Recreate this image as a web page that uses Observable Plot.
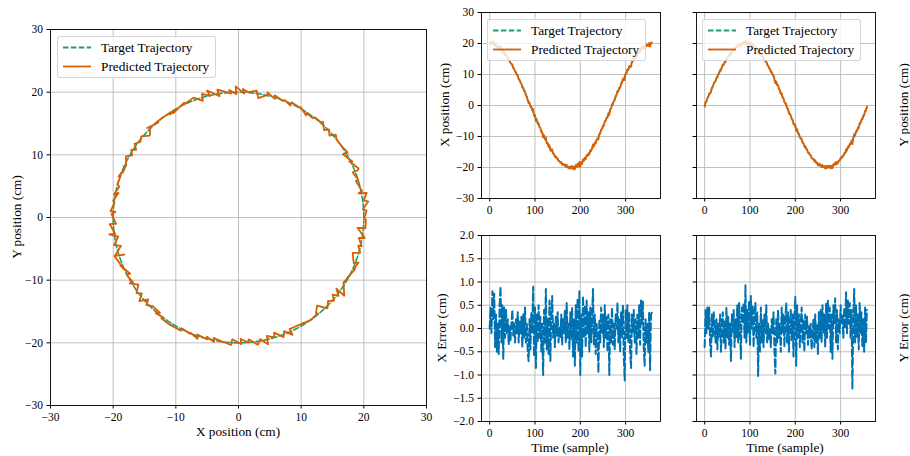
<!DOCTYPE html>
<html>
<head>
<meta charset="utf-8">
<script src="https://cdn.jsdelivr.net/npm/d3@7"></script>
<script src="https://cdn.jsdelivr.net/npm/@observablehq/plot@0.6"></script>
<style>
  body { margin: 0; background: #fff; }
  #fig { position: relative; width: 910px; height: 456px; font-family: "Liberation Serif", "Times New Roman", serif; color: #000; overflow: hidden; }
  .lbl { position: absolute; font-size: 13.3px; white-space: nowrap; transform: translate(-50%, -50%); }
  .rot { transform: translate(-50%, -50%) rotate(-90deg); }
  .legend { position: absolute; background: rgba(255,255,255,0.8); border: 1px solid rgba(204,204,204,0.8); border-radius: 3px; box-sizing: border-box; }
</style>
</head>
<body>
<div id="fig"></div>
<script>
// ---------- data (sampled every 2 samples, t = 0..358) ----------
const sampleStep = 2;
const seriesNames = ["Target Trajectory", "Predicted Trajectory"];

const xTarget = [
 20,19.99,19.95,19.89,19.81,19.7,19.56,19.41,19.23,19.02,18.79,18.54,18.27,17.98,17.66,17.32,16.96,16.58,16.18,15.76,15.32,14.86,14.39,13.89,13.38,12.86,12.31,11.76,11.18,10.6,10,9.39,8.77,8.13,7.49,6.84,6.18,5.51,4.84,4.16,3.47,2.78,2.09,1.4,0.7,0,
 -0.7,-1.4,-2.09,-2.78,-3.47,-4.16,-4.84,-5.51,-6.18,-6.84,-7.49,-8.13,-8.77,-9.39,-10,-10.6,-11.18,-11.76,-12.31,-12.86,-13.38,-13.89,-14.39,-14.86,-15.32,-15.76,-16.18,-16.58,-16.96,-17.32,-17.66,-17.98,-18.27,-18.54,-18.79,-19.02,-19.23,-19.41,-19.56,-19.7,-19.81,-19.89,-19.95,-19.99,-20,
 -19.99,-19.95,-19.89,-19.81,-19.7,-19.56,-19.41,-19.23,-19.02,-18.79,-18.54,-18.27,-17.98,-17.66,-17.32,-16.96,-16.58,-16.18,-15.76,-15.32,-14.86,-14.39,-13.89,-13.38,-12.86,-12.31,-11.76,-11.18,-10.6,-10,-9.39,-8.77,-8.13,-7.49,-6.84,-6.18,-5.51,-4.84,-4.16,-3.47,-2.78,-2.09,-1.4,-0.7,0,
 0.7,1.4,2.09,2.78,3.47,4.16,4.84,5.51,6.18,6.84,7.49,8.13,8.77,9.39,10,10.6,11.18,11.76,12.31,12.86,13.38,13.89,14.39,14.86,15.32,15.76,16.18,16.58,16.96,17.32,17.66,17.98,18.27,18.54,18.79,19.02,19.23,19.41,19.56,19.7,19.81,19.89,19.95,19.99
];

const yTarget = [
 0,0.7,1.4,2.09,2.78,3.47,4.16,4.84,5.51,6.18,6.84,7.49,8.13,8.77,9.39,10,10.6,11.18,11.76,12.31,12.86,13.38,13.89,14.39,14.86,15.32,15.76,16.18,16.58,16.96,17.32,17.66,17.98,18.27,18.54,18.79,19.02,19.23,19.41,19.56,19.7,19.81,19.89,19.95,19.99,20,
 19.99,19.95,19.89,19.81,19.7,19.56,19.41,19.23,19.02,18.79,18.54,18.27,17.98,17.66,17.32,16.96,16.58,16.18,15.76,15.32,14.86,14.39,13.89,13.38,12.86,12.31,11.76,11.18,10.6,10,9.39,8.77,8.13,7.49,6.84,6.18,5.51,4.84,4.16,3.47,2.78,2.09,1.4,0.7,0,
 -0.7,-1.4,-2.09,-2.78,-3.47,-4.16,-4.84,-5.51,-6.18,-6.84,-7.49,-8.13,-8.77,-9.39,-10,-10.6,-11.18,-11.76,-12.31,-12.86,-13.38,-13.89,-14.39,-14.86,-15.32,-15.76,-16.18,-16.58,-16.96,-17.32,-17.66,-17.98,-18.27,-18.54,-18.79,-19.02,-19.23,-19.41,-19.56,-19.7,-19.81,-19.89,-19.95,-19.99,-20,
 -19.99,-19.95,-19.89,-19.81,-19.7,-19.56,-19.41,-19.23,-19.02,-18.79,-18.54,-18.27,-17.98,-17.66,-17.32,-16.96,-16.58,-16.18,-15.76,-15.32,-14.86,-14.39,-13.89,-13.38,-12.86,-12.31,-11.76,-11.18,-10.6,-10,-9.39,-8.77,-8.13,-7.49,-6.84,-6.18,-5.51,-4.84,-4.16,-3.47,-2.78,-2.09,-1.4,-0.7
];

// prediction error (predicted - target), cm
const xError = [
 0,0.45,-0.1,0.8,0.2,0.75,-0.4,0.3,-0.5,0.1,-0.55,0.5,0.9,-0.3,0.5,-0.65,0.45,-0.2,0.4,-0.1,
 0.2,-0.35,0.05,-0.25,0.1,0.4,-0.15,0.1,-0.3,0.2,-0.1,0.35,-0.3,0.15,-0.1,0.25,-0.4,0.3,-0.2,0.45,
 -0.3,0.1,-0.5,-0.7,0.2,-0.45,0.35,-0.1,0.9,-0.6,0.45,-0.85,0.3,-0.3,0.5,-0.2,0.25,-0.5,0.1,-1.0,
 0.4,-0.3,0.85,-0.45,0.2,-0.55,0.6,-0.7,0.3,0.7,-0.2,0.1,-0.4,0.25,-0.15,0.35,-0.3,0.05,-0.2,0.3,
 -0.35,0.2,-0.1,0.4,-0.3,0.55,-0.2,0.1,-0.45,0.35,-0.25,0.45,-0.6,0.2,-0.8,0.5,-0.3,0.65,-0.5,0.8,
 -1.0,0.3,-0.6,0.7,-0.2,0.5,-0.4,0.6,-0.1,0.35,-0.5,0.45,-0.3,0.2,0.85,-0.35,0.3,-0.55,0.1,-0.2,
 -0.95,0.2,-0.3,0.45,-0.1,0.3,-0.4,0.5,-0.2,0.25,-0.5,0.3,-1.0,0.2,-0.3,0.45,-0.35,0.1,-0.45,0.3,
 0,0.55,-0.3,0.2,-0.5,0.35,-0.2,0.5,-0.6,-1.12,0.4,-0.2,0.5,-0.3,0.35,-0.5,-0.85,0.3,-0.1,0.4,
 -0.3,0.2,-0.55,0.3,-0.2,0.5,-0.35,0.6,0.1,0.6,-0.4,-0.8,0.2,-0.3,0.1,-0.5,0.35,-0.9,0.3,0.35
];

const yError = [
 -0.4,0.4,-0.1,0.45,0,0.45,-0.3,-0.6,0.3,-0.2,0.35,0.05,-0.3,0.2,-0.45,0.1,-0.2,0.3,-0.5,0.1,
 0.35,-0.3,0.15,-0.45,0.45,-0.2,0.25,-0.35,0.1,-0.7,0.3,-0.1,0.4,-0.4,0.2,-0.2,0.5,-0.3,0.55,0,
 -0.65,0.45,0.1,0.55,-0.2,0.93,-0.3,0.4,-0.1,0.6,-0.35,0.7,0,0.5,-0.4,0.3,0.55,-0.2,0.35,-1.02,
 0.1,-0.5,0.45,-0.3,0.2,-0.4,0.3,-0.1,0.5,-0.3,0.1,-0.25,0,-0.4,0.2,-0.1,0.35,-0.45,-0.97,0.2,
 -0.3,0.4,-0.2,0.1,-0.5,0.45,-0.1,0.3,-0.4,0.2,0.55,-0.3,0.35,-0.5,0.1,0.4,-0.25,0.3,-0.6,0.25,
 0.68,-0.8,0.5,-0.2,0.3,-0.4,0.1,0.45,-0.3,0.2,-0.5,0.3,-0.1,0.25,-0.35,0.05,-0.2,0.1,-0.45,-0.15,
 0.2,-0.4,0.3,-0.3,0.1,-0.55,0.35,-0.2,0.4,-0.3,0.5,-0.1,0.3,-0.4,0.55,-0.2,0.6,0,0.45,-0.5,
 0.3,-0.65,0.5,0.1,0.65,-0.3,0.4,-0.45,0.2,-0.1,0.5,0.1,0.3,-0.2,0.45,0,0.78,-0.1,0.6,0.1,
 0.55,-0.2,0.4,-1.3,0.2,0.85,-0.3,0.5,-0.2,0.3,-0.45,0.55,-0.1,0.35,-0.4,0.2,-0.5,0.45,-0.3,0.4
];

const posTicks = [-30, -20, -10, 0, 10, 20, 30];
const timeTicks = [0, 100, 200, 300];
const errTicks = [-2, -1.5, -1, -0.5, 0, 0.5, 1, 1.5, 2];

// ---------- styles ----------
const cTarget = "#1b9e77", cPred = "#d95f02", cErr = "#0072b2";
const FONT = '"Liberation Serif", "Times New Roman", serif';

const rows = xTarget.map((xt, i) => ({
  t: i * sampleStep,
  xt, yt: yTarget[i],
  ex: xError[i], ey: yError[i],
  xp: xt + xError[i], yp: yTarget[i] + yError[i]
}));

const fig = document.getElementById("fig");

function panel({fl, fr, ft, fb, xd, yd, xticks, yticks, yfmt, showY = true, marks}) {
  const ml = 46, mr = 12, mt = 12, mb = 24;
  const chart = Plot.plot({
    width: (fr - fl) + ml + mr, height: (fb - ft) + mt + mb,
    marginLeft: ml, marginRight: mr, marginTop: mt, marginBottom: mb,
    style: {fontFamily: FONT, fontSize: "11.5px", background: "transparent", color: "#000", overflow: "visible"},
    x: {domain: xd}, y: {domain: yd},
    marks: [
      Plot.gridX({ticks: xticks, stroke: "#b0b0b0", strokeOpacity: 1, strokeWidth: 0.8}),
      Plot.gridY({ticks: yticks, stroke: "#b0b0b0", strokeOpacity: 1, strokeWidth: 0.8}),
      ...marks,
      Plot.frame({stroke: "#000", strokeWidth: 0.9}),
      Plot.axisX({ticks: xticks, tickSize: 3.5, tickPadding: 4, label: null, fontSize: 11.5}),
      Plot.axisY({ticks: yticks, tickSize: 3.5, tickPadding: 4, label: null, fontSize: 11.5,
        tickFormat: showY ? (yfmt || (d => d3.format("d")(d))) : () => ""})
    ]
  });
  chart.style.position = "absolute";
  chart.style.left = (fl - ml) + "px";
  chart.style.top = (ft - mt) + "px";
  fig.appendChild(chart);
}

function label(text, x, y, rot) {
  const d = document.createElement("div");
  d.className = "lbl" + (rot ? " rot" : "");
  d.style.left = x + "px"; d.style.top = y + "px";
  d.textContent = text;
  fig.appendChild(d);
}

function legend(left, top) {
  const w = 159, h = 42;
  const d = document.createElement("div");
  d.className = "legend";
  Object.assign(d.style, {left: left + "px", top: top + "px", width: w + "px", height: h + "px"});
  const ns = "http://www.w3.org/2000/svg";
  const svg = document.createElementNS(ns, "svg");
  svg.setAttribute("width", w); svg.setAttribute("height", h);
  svg.style.position = "absolute"; svg.style.left = "-1px"; svg.style.top = "-1px";
  const entries = [
    {name: seriesNames[0], color: cTarget, dash: "5.5,2.4"},
    {name: seriesNames[1], color: cPred, dash: null}
  ];
  entries.forEach((e, i) => {
    const yy = 11.5 + i * 19;
    const ln = document.createElementNS(ns, "line");
    ln.setAttribute("x1", 6); ln.setAttribute("x2", 34);
    ln.setAttribute("y1", yy); ln.setAttribute("y2", yy);
    ln.setAttribute("stroke", e.color); ln.setAttribute("stroke-width", 1.8);
    if (e.dash) ln.setAttribute("stroke-dasharray", e.dash);
    svg.appendChild(ln);
    const tx = document.createElementNS(ns, "text");
    tx.setAttribute("x", 44); tx.setAttribute("y", yy + 4.6);
    tx.setAttribute("font-family", FONT); tx.setAttribute("font-size", "13.3px");
    tx.textContent = e.name;
    svg.appendChild(tx);
  });
  d.appendChild(svg);
  fig.appendChild(d);
}

const targetLine = (x, y) => Plot.line(rows, {x, y, stroke: cTarget, strokeWidth: 1.6, strokeDasharray: "5.5,2.4", clip: true});
const predLine = (x, y, w) => Plot.line(rows, {x, y, stroke: cPred, strokeWidth: w, clip: true});
const errLine = y => Plot.line(rows, {x: "t", y, stroke: cErr, strokeWidth: 2, strokeDasharray: "7.4,3.2", clip: true});

const tDomain = [-18, 377];

// Left: trajectory in the plane
panel({fl: 50, fr: 426, ft: 29, fb: 405, xd: [-30, 30], yd: [-30, 30], xticks: posTicks, yticks: posTicks,
  marks: [targetLine("xt", "yt"), predLine("xp", "yp", 1.8)]});
// Top-right: X position vs time
panel({fl: 481, fr: 660, ft: 12, fb: 198, xd: tDomain, yd: [-30, 30], xticks: timeTicks, yticks: posTicks,
  marks: [targetLine("t", "xt"), predLine("t", "xp", 1.8)]});
// Top-right: Y position vs time
panel({fl: 696, fr: 875, ft: 12, fb: 198, xd: tDomain, yd: [-30, 30], xticks: timeTicks, yticks: posTicks, showY: false,
  marks: [targetLine("t", "yt"), predLine("t", "yp", 1.8)]});
// Bottom: errors
const f1 = d3.format(".1f");
panel({fl: 481, fr: 660, ft: 235, fb: 421, xd: tDomain, yd: [-2, 2], xticks: timeTicks, yticks: errTicks, yfmt: f1,
  marks: [errLine("ex")]});
panel({fl: 696, fr: 875, ft: 235, fb: 421, xd: tDomain, yd: [-2, 2], xticks: timeTicks, yticks: errTicks, showY: false,
  marks: [errLine("ey")]});

legend(57, 36);
legend(487, 19);
legend(702, 19);

label("X position (cm)", 238, 432, false);
label("Y position (cm)", 17, 217, true);
label("X position (cm)", 445, 105, true);
label("Y position (cm)", 904, 105, true);
label("X Error (cm)", 442, 328, true);
label("Y Error (cm)", 904, 328, true);
label("Time (sample)", 570, 447.5, false);
label("Time (sample)", 785, 447.5, false);
</script>
</body>
</html>
